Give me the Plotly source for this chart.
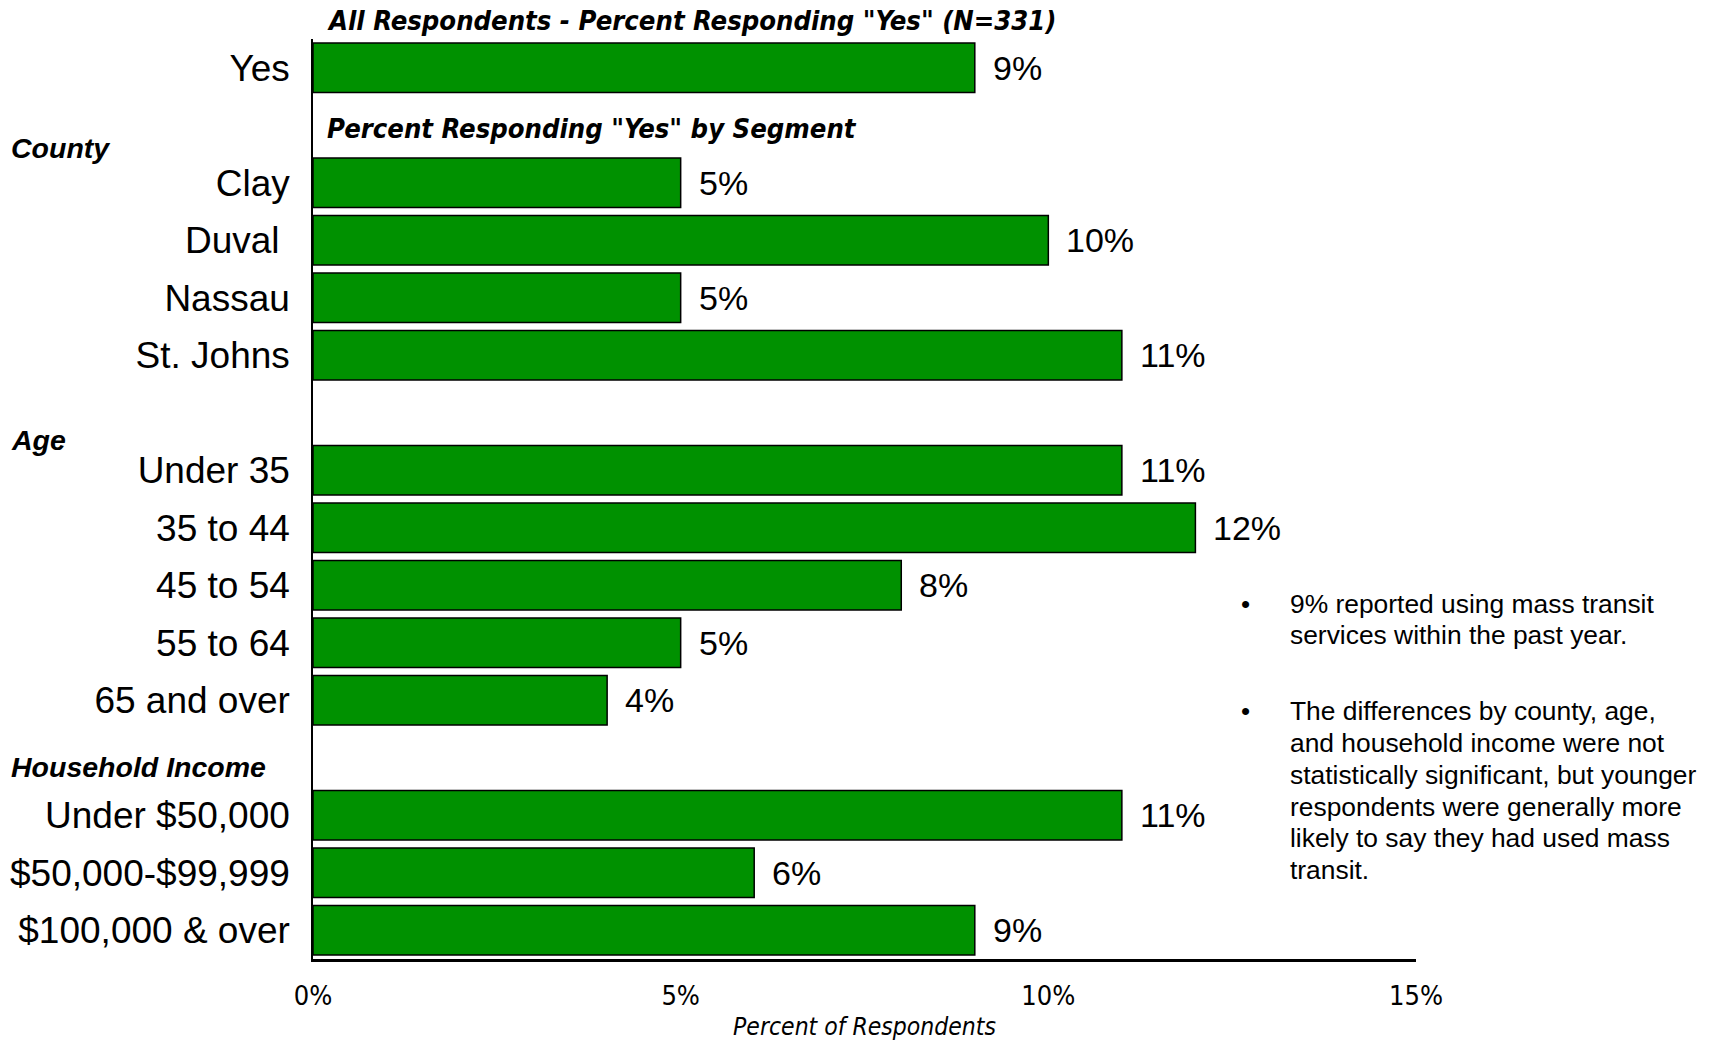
import plotly.graph_objects as go

# Row labels top to bottom; None marks a spacer row between groups
rows = ["Yes", None, "Clay", "Duval ", "Nassau", "St. Johns", None,
        "Under 35", "35 to 44", "45 to 54", "55 to 64", "65 and over", None,
        "Under $50,000", "$50,000-$99,999", "$100,000 & over"]
values = [9, None, 5, 10, 5, 11, None, 11, 12, 8, 5, 4, None, 11, 6, 9]

group_labels = ["County", "Age", "Household Income"]
group_rows = [1.39, 6.47, 12.16]

x_ticks = [0, 5, 10, 15]
x_tick_text = ["0%", "5%", "10%", "15%"]

title_all = 'All Respondents - Percent Responding "Yes" (N=331)'
title_seg = 'Percent Responding "Yes" by Segment'
x_title = "Percent of Respondents"

notes = [
    ["9% reported using mass transit",
     "services within the past year."],
    ["The differences by county, age,",
     "and household income were not",
     "statistically significant, but younger",
     "respondents were generally more",
     "likely to say they had used mass",
     "transit."],
]
note_rows = [9.32, 11.19]

BAR = "#009100"
ARIAL = "Liberation Sans, Arial, sans-serif"
NARROW = "Liberation Sans Narrow, Arial Narrow, DejaVu Sans Condensed, sans-serif"

ys = [i for i, v in enumerate(values) if v is not None]
xs = [v for v in values if v is not None]
labels = [rows[i] for i in ys]

fig = go.Figure()
fig.add_trace(go.Bar(
    x=xs, y=ys, orientation="h", width=0.857,
    marker=dict(color=BAR, line=dict(color="black", width=1.5)),
    hoverinfo="skip",
))

annotations = []
for y, v in zip(ys, xs):
    annotations.append(dict(
        x=v, y=y, xref="x", yref="y", text=f"{v}%", showarrow=False,
        xanchor="left", yanchor="middle", xshift=16,
        font=dict(family=ARIAL, size=34, color="black"),
    ))

for name, r in zip(group_labels, group_rows):
    annotations.append(dict(
        x=0, y=r, xref="paper", yref="y", text=f"<b><i>{name}</i></b>",
        showarrow=False, xanchor="left", yanchor="middle", xshift=-304,
        font=dict(family=ARIAL, size=28.5, color="black"),
    ))

annotations.append(dict(
    x=0, y=1.0196, xref="x", yref="paper", text=f"<b><i>{title_all}</i></b>",
    showarrow=False, xanchor="left", yanchor="middle", xshift=12,
    font=dict(family=NARROW, size=27.2, color="black"),
))
annotations.append(dict(
    x=0, y=1.06, xref="x", yref="y", text=f"<b><i>{title_seg}</i></b>",
    showarrow=False, xanchor="left", yanchor="middle", xshift=12,
    font=dict(family=NARROW, size=27.2, color="black"),
))

LINE_GAP = 31.8
for lines, r in zip(notes, note_rows):
    annotations.append(dict(
        x=1, y=r, xref="paper", yref="y", text="•", showarrow=False,
        xanchor="center", yanchor="middle", xshift=-171,
        font=dict(family=ARIAL, size=26, color="black"),
    ))
    for k, line in enumerate(lines):
        annotations.append(dict(
            x=1, y=r, xref="paper", yref="y", text=line, showarrow=False,
            xanchor="left", yanchor="middle", xshift=-128,
            yshift=-k * LINE_GAP,
            font=dict(family=ARIAL, size=26.4, color="black"),
        ))

fig.update_layout(
    width=1718, height=1041,
    margin=dict(l=313, r=302, t=39, b=82),
    paper_bgcolor="white", plot_bgcolor="white",
    showlegend=False, annotations=annotations,
    xaxis=dict(
        range=[0, 15], tickvals=x_ticks, ticktext=x_tick_text,
        showgrid=False, zeroline=False, showline=True,
        linecolor="black", linewidth=2.5, ticks="", automargin=False,
        tickfont=dict(family=NARROW, size=27, color="black"),
        ticklabelstandoff=11,
        title=dict(text=f"<i>{x_title}</i>", standoff=8,
                   font=dict(family=NARROW, size=24.5, color="black")),
    ),
    yaxis=dict(
        range=[15.5, -0.5], tickvals=ys, ticktext=labels,
        showgrid=False, zeroline=False, showline=True,
        linecolor="black", linewidth=1.5, ticks="", automargin=False,
        ticklabelstandoff=14,
        tickfont=dict(family=ARIAL, size=37, color="black"),
    ),
)

fig.write_html("out.html")
